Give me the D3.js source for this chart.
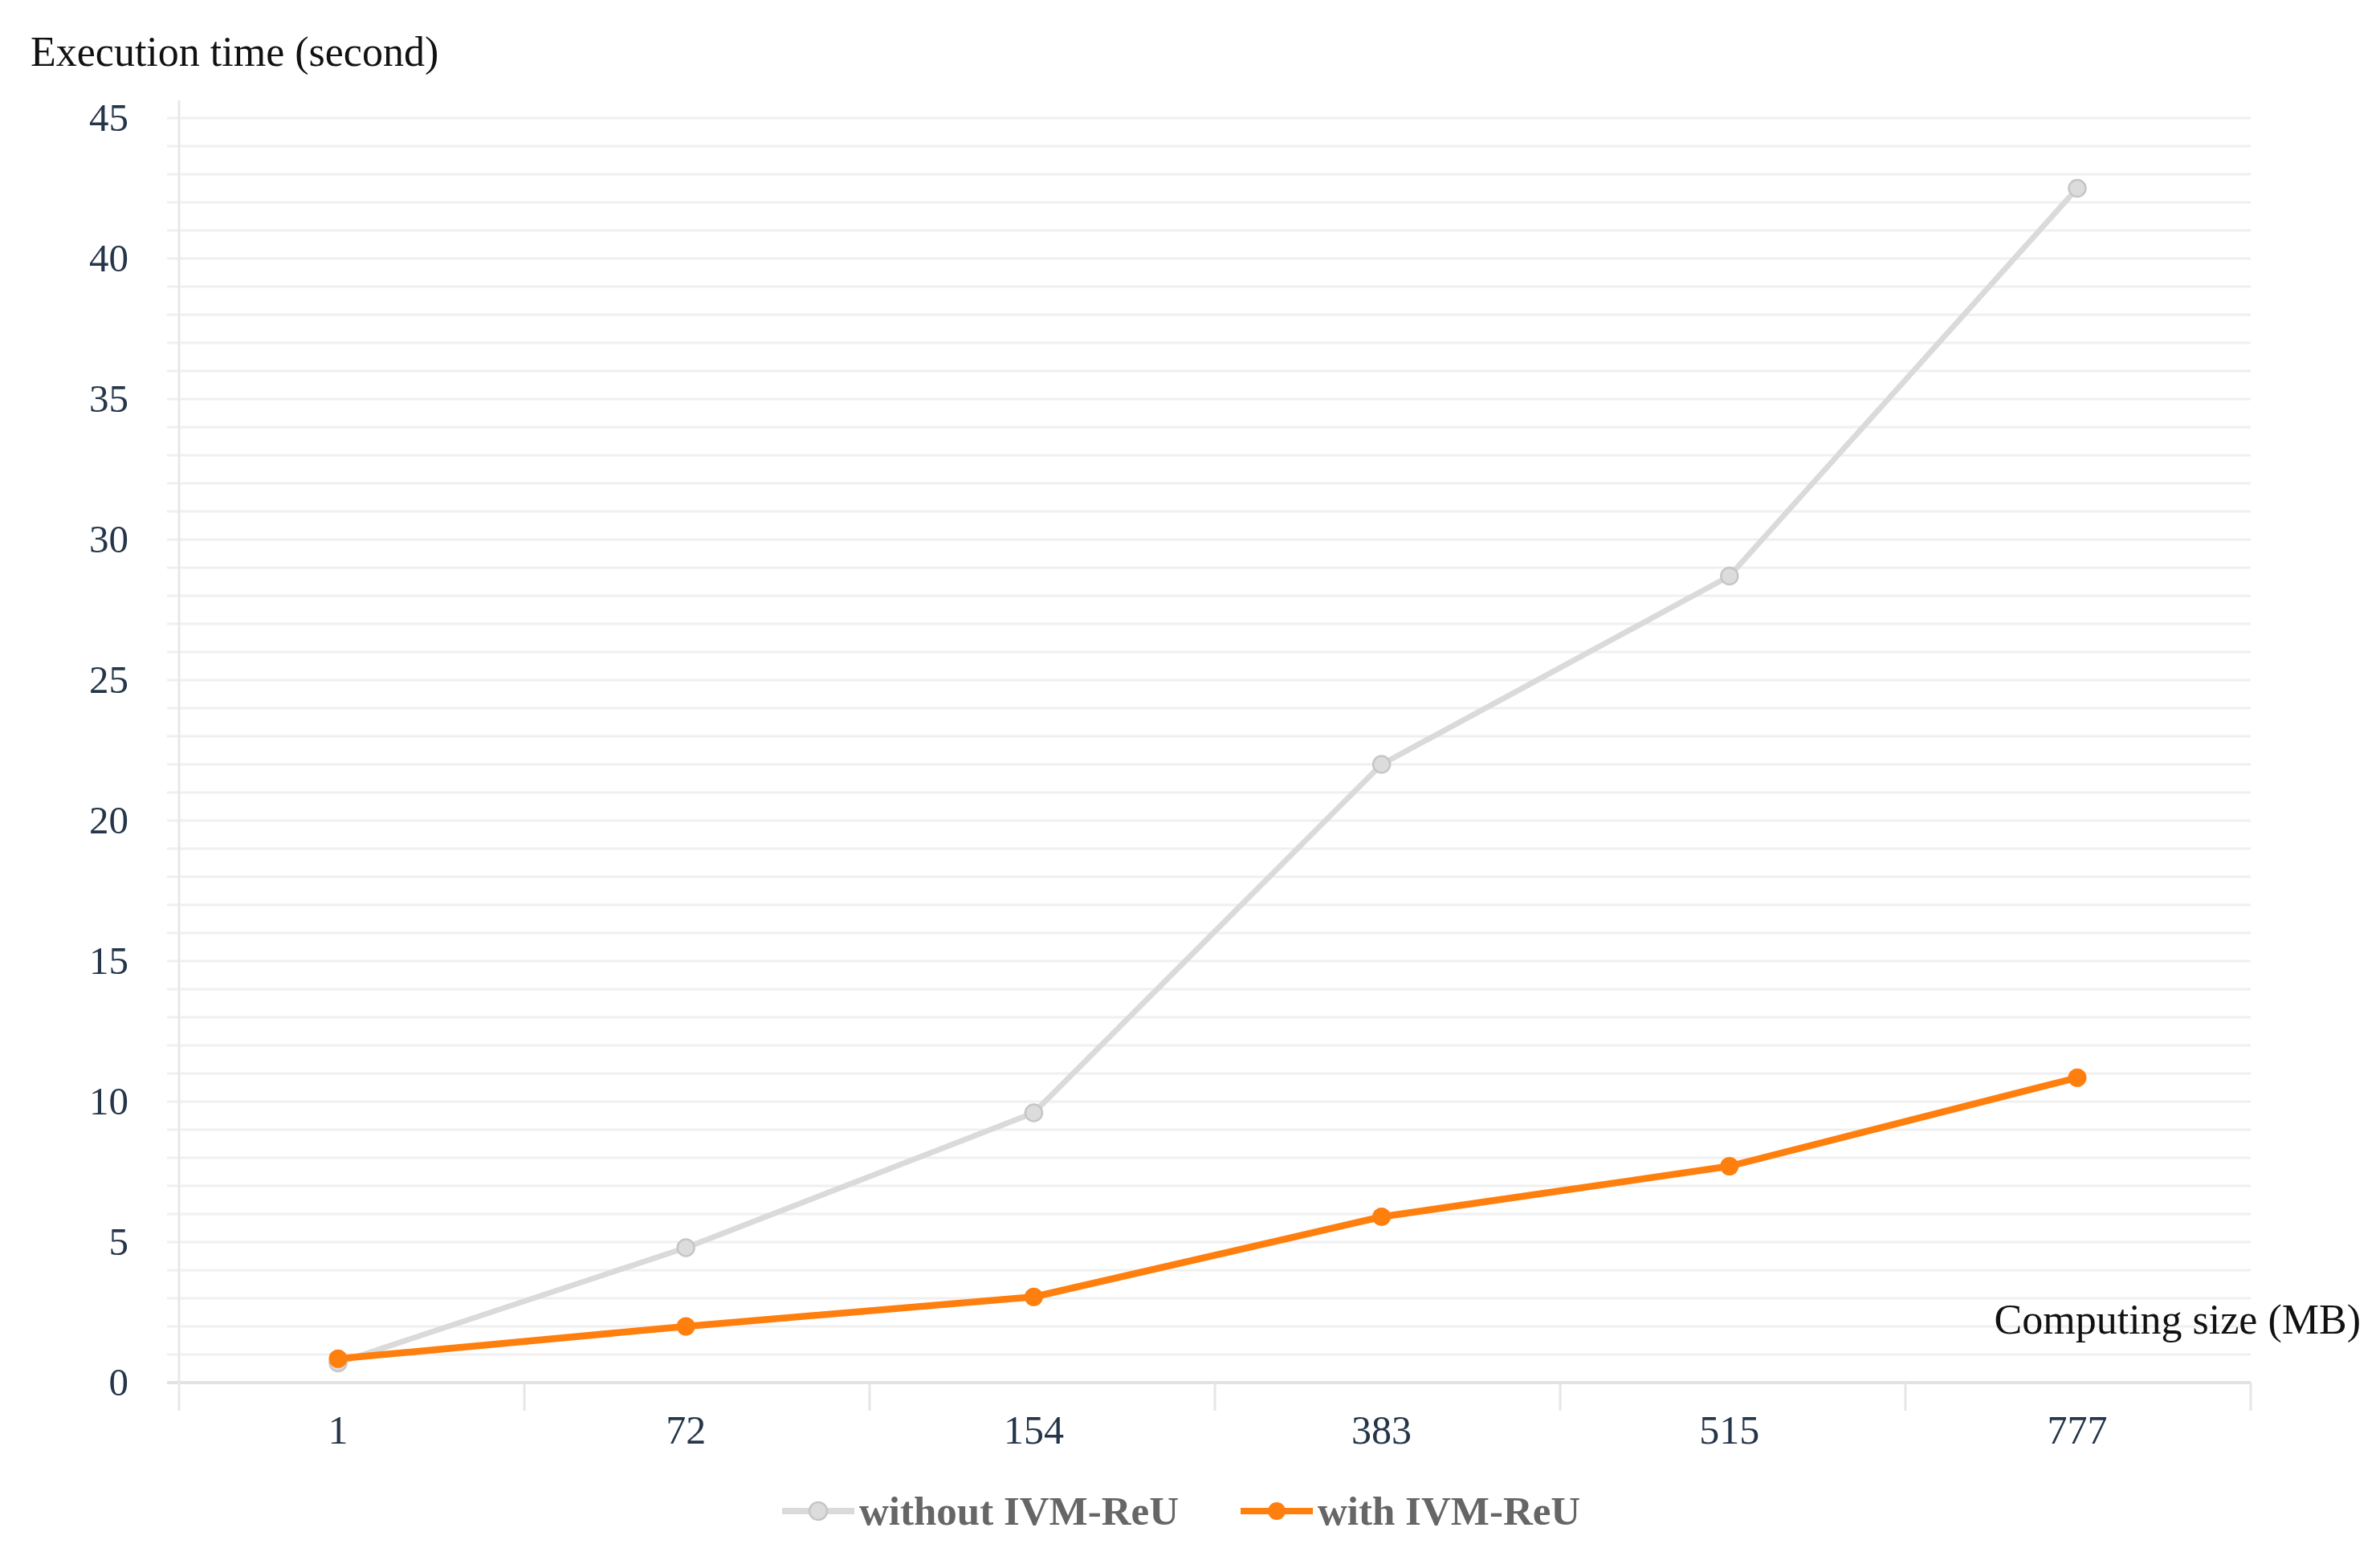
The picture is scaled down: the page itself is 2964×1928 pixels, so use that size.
<!DOCTYPE html>
<html>
<head>
<meta charset="utf-8">
<script src="https://cdn.jsdelivr.net/npm/d3@7"></script>
<style>
  html, body { margin: 0; padding: 0; background: #ffffff; }
  svg { display: block; }
  text { font-family: "Liberation Serif", "Times New Roman", serif; }
</style>
</head>
<body>
<svg id="chart" width="2964" height="1928"></svg>
<script>
// ---- data ----
const categories = ["1", "72", "154", "383", "515", "777"];
const withoutIVM = [0.7, 4.8, 9.6, 22.0, 28.7, 42.5];
const withIVM = [0.85, 2.0, 3.05, 5.9, 7.7, 10.85];
const yMajorTicks = [0, 5, 10, 15, 20, 25, 30, 35, 40, 45];
const seriesNames = ["without IVM-ReU", "with IVM-ReU"];
const yTitle = "Execution time (second)";
const xTitle = "Computing size (MB)";

// ---- layout ----
const W = 2964, H = 1928;
const plotLeft = 223, plotRight = 2803, plotTop = 147, plotBottom = 1722;
const svg = d3.select("#chart");

const y = d3.scaleLinear().domain([0, 45]).range([plotBottom, plotTop]);
const xBand = d3.scaleBand().domain(categories).range([plotLeft, plotRight]);
const x = d3.scalePoint().domain(categories).range([421, 2587]);

const colGray = "#dadada";
const colOrange = "#ff7f0e";
const labelColor = "#25364a";

// minor gridlines every 1 unit
const minor = d3.range(0, 46, 1);
svg.append("g").selectAll("line").data(minor).join("line")
  .attr("x1", plotLeft - 15).attr("x2", plotRight)
  .attr("y1", d => y(d)).attr("y2", d => y(d))
  .attr("stroke", d => d === 0 ? "#e2e2e2" : "#f0f0f0")
  .attr("stroke-width", d => d === 0 ? 4 : 3);

// y axis line
svg.append("line")
  .attr("x1", plotLeft).attr("x2", plotLeft)
  .attr("y1", plotTop - 22).attr("y2", plotBottom + 35)
  .attr("stroke", "#e8e8e8").attr("stroke-width", 3);

// x band boundary ticks
const bounds = categories.map(c => xBand(c)).concat([xBand(categories[categories.length - 1]) + xBand.bandwidth()]);
svg.append("g").selectAll("line").data(bounds.slice(1)).join("line")
  .attr("x1", d => d).attr("x2", d => d)
  .attr("y1", plotBottom).attr("y2", plotBottom + 35)
  .attr("stroke", "#e6e6e6").attr("stroke-width", 3);

// y tick labels
svg.append("g").selectAll("text").data(yMajorTicks).join("text")
  .attr("x", 160).attr("y", d => y(d))
  .attr("dy", "0.33em")
  .attr("text-anchor", "end")
  .attr("font-size", 49)
  .attr("fill", labelColor)
  .text(d => d);

// x tick labels
svg.append("g").selectAll("text").data(categories).join("text")
  .attr("x", d => x(d)).attr("y", 1798)
  .attr("text-anchor", "middle")
  .attr("font-size", 50)
  .attr("fill", labelColor)
  .text(d => d);

// titles
svg.append("text").attr("x", 38).attr("y", 82)
  .attr("font-size", 52).attr("fill", "#111").text(yTitle);
svg.append("text").attr("x", 2940).attr("y", 1661)
  .attr("text-anchor", "end")
  .attr("font-size", 52).attr("fill", "#111").text(xTitle);

// lines
const line = d3.line().x((d, i) => x(categories[i])).y(d => y(d));

svg.append("path").datum(withoutIVM)
  .attr("d", line).attr("fill", "none")
  .attr("stroke", colGray).attr("stroke-width", 7)
  .attr("stroke-linejoin", "round");
svg.append("g").selectAll("circle").data(withoutIVM).join("circle")
  .attr("cx", (d, i) => x(categories[i])).attr("cy", d => y(d))
  .attr("r", 10.5).attr("fill", "#dcdcdc")
  .attr("stroke", "#c6c6c6").attr("stroke-width", 2.5);

svg.append("path").datum(withIVM)
  .attr("d", line).attr("fill", "none")
  .attr("stroke", colOrange).attr("stroke-width", 8.5)
  .attr("stroke-linejoin", "round");
svg.append("g").selectAll("circle").data(withIVM).join("circle")
  .attr("cx", (d, i) => x(categories[i])).attr("cy", d => y(d))
  .attr("r", 11.5).attr("fill", colOrange);

// legend
const legendY = 1882;
const legendItems = [
  { name: seriesNames[0], x0: 974, color: colGray, fill: "#dcdcdc", stroke: "#c6c6c6" },
  { name: seriesNames[1], x0: 1545, color: colOrange, fill: colOrange, stroke: "none" }
];
const lg = svg.append("g").selectAll("g").data(legendItems).join("g");
lg.append("line")
  .attr("x1", d => d.x0).attr("x2", d => d.x0 + 90)
  .attr("y1", legendY).attr("y2", legendY)
  .attr("stroke", d => d.color).attr("stroke-width", 8);
lg.append("circle")
  .attr("cx", d => d.x0 + 45).attr("cy", legendY).attr("r", 11)
  .attr("fill", d => d.fill).attr("stroke", d => d.stroke).attr("stroke-width", 2.5);
lg.append("text")
  .attr("x", d => d.x0 + 96).attr("y", legendY).attr("dy", "0.33em")
  .attr("font-size", 51).attr("font-weight", "bold").attr("fill", "#666")
  .text(d => d.name);
</script>
</body>
</html>
